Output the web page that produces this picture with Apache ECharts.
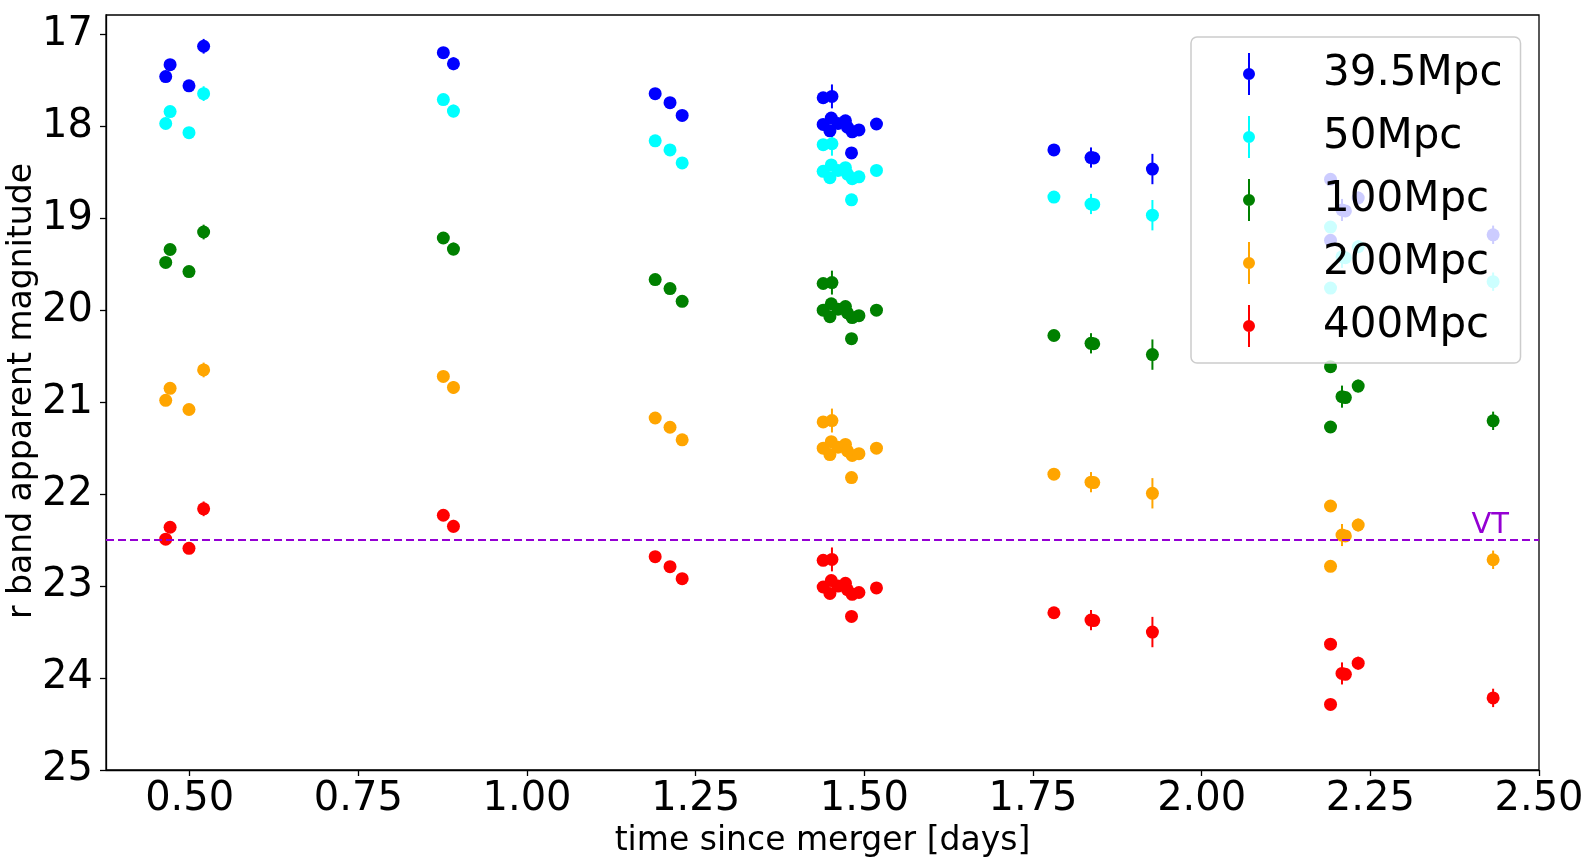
<!DOCTYPE html>
<html>
<head>
<meta charset="utf-8">
<script src="https://cdn.jsdelivr.net/npm/echarts@6/dist/echarts.min.js"></script>
<style>
  html, body { margin: 0; padding: 0; background: #fff; }
  #chart { width: 1587px; height: 862px; }
</style>
</head>
<body>
<div id="chart"></div>
<script>
// observation times (days since merger), shared by every distance
const times = [0.4645, 0.471, 0.499, 0.5207, 0.876, 0.891, 1.190, 1.212, 1.230,
  1.439, 1.452, 1.439, 1.451, 1.449, 1.461, 1.472, 1.475, 1.482, 1.492, 1.518, 1.481,
  1.781, 1.836, 1.840, 1.927, 2.191, 2.191, 2.208, 2.213, 2.232, 2.432]
// magnitude errors (same for all distances)
const errs = [0, 0, 0, 0.08, 0, 0.07, 0, 0, 0,
  0, 0.13, 0, 0, 0, 0, 0, 0, 0, 0, 0, 0,
  0, 0.11, 0, 0.165, 0, 0, 0.12, 0, 0.07, 0.1]

const mag395 = [17.46, 17.33, 17.56, 17.13, 17.20, 17.32, 17.645, 17.743, 17.882,
  17.69, 17.675, 17.98, 17.91, 18.05, 17.97, 17.94, 18.01, 18.06, 18.04, 17.975, 18.29,
  18.257, 18.34, 18.345, 18.465, 18.577, 19.24, 18.91, 18.92, 18.78, 19.18]
const mag50 = [17.97, 17.84, 18.07, 17.645, 17.71, 17.835, 18.158, 18.257, 18.399,
  18.20, 18.19, 18.49, 18.42, 18.56, 18.48, 18.45, 18.52, 18.57, 18.55, 18.48, 18.80,
  18.77, 18.845, 18.85, 18.967, 19.096, 19.76, 19.42, 19.43, 19.31, 19.69]
const mag100 = [19.48, 19.34, 19.58, 19.15, 19.215, 19.335, 19.667, 19.765, 19.904,
  19.71, 19.70, 20.00, 19.93, 20.07, 19.99, 19.96, 20.03, 20.08, 20.06, 20.00, 20.31,
  20.275, 20.36, 20.365, 20.483, 20.614, 21.27, 20.94, 20.95, 20.825, 21.203]
const mag200 = [20.98, 20.85, 21.08, 20.65, 20.72, 20.84, 21.172, 21.273, 21.41,
  21.215, 21.20, 21.50, 21.43, 21.57, 21.49, 21.46, 21.53, 21.58, 21.56, 21.50, 21.82,
  21.783, 21.87, 21.875, 21.991, 22.129, 22.785, 22.445, 22.455, 22.336, 22.714]
const mag400 = [22.49, 22.36, 22.59, 22.16, 22.23, 22.35, 22.68, 22.789, 22.92,
  22.72, 22.71, 23.01, 22.94, 23.08, 23.00, 22.97, 23.04, 23.09, 23.07, 23.02, 23.33,
  23.29, 23.37, 23.375, 23.50, 23.632, 24.287, 23.95, 23.96, 23.838, 24.216]

const distances = ['39.5Mpc', '50Mpc', '100Mpc', '200Mpc', '400Mpc']
const magnitudes = [mag395, mag50, mag100, mag200, mag400]
const colors = ['#0000ff', '#00ffff', '#008000', '#ffa500', '#ff0000']

const xTicks = [0.5, 0.75, 1, 1.25, 1.5, 1.75, 2, 2.25, 2.5]
const yTicks = [17, 18, 19, 20, 21, 22, 23, 24, 25]
const vtLimit = 22.5

const font = 'DejaVu Sans'
// errorbar legend glyph: vertical bar with a dot
const errIcon = 'path://M5,0 H7 V42 H5 Z M6,15 A6,6 0 1,1 6,27 A6,6 0 1,1 6,15 Z'

const chart = echarts.init(document.getElementById('chart'))

const series = []
distances.forEach((name, i) => {
  const data = times.map((t, k) => [t, magnitudes[i][k], errs[k]])
  series.push({
    name: name + ' err',
    type: 'custom',
    data: data,
    itemStyle: { color: colors[i] },
    renderItem: (params, api) => {
      const e = api.value(2)
      if (!e) return null
      const top = api.coord([api.value(0), api.value(1) - e])
      const bot = api.coord([api.value(0), api.value(1) + e])
      return {
        type: 'line',
        shape: { x1: top[0], y1: top[1], x2: bot[0], y2: bot[1] },
        style: { stroke: colors[i], lineWidth: 2 }
      }
    }
  })
  const sc = {
    name: name,
    type: 'scatter',
    data: data,
    symbolSize: 13,
    itemStyle: { color: colors[i], opacity: 1 }
  }
  if (i === distances.length - 1) {
    sc.markLine = {
      silent: true,
      symbol: 'none',
      data: [{ yAxis: vtLimit }],
      lineStyle: { type: [8, 4], color: '#9400d3', width: 2 },
      label: {
        show: true, position: 'insideEndTop', formatter: 'VT',
        color: '#9400d3', fontSize: 29, fontFamily: font, distance: [30, 0]
      }
    }
  }
  series.push(sc)
})

chart.setOption({
  animation: false,
  textStyle: { fontFamily: font },
  grid: {
    left: 106, top: 15, right: 48, bottom: 92,
    outerBoundsMode: 'none',
    show: true, borderColor: '#000', borderWidth: 1.3, backgroundColor: 'transparent'
  },
  // y axis title, placed by hand
  graphic: [{
    type: 'text',
    x: 22, y: 391,
    rotation: Math.PI / 2,
    style: {
      text: 'r band apparent magnitude',
      font: '33px "DejaVu Sans"',
      fill: '#000',
      textAlign: 'center',
      textVerticalAlign: 'middle'
    }
  }],
  legend: {
    orient: 'vertical',
    left: 1191, top: 37,
    padding: [16, 18, 16, 52],
    itemGap: 21,
    itemWidth: 12, itemHeight: 42,
    backgroundColor: 'rgba(255,255,255,0.8)',
    borderColor: '#cccccc', borderWidth: 1.5, borderRadius: 6,
    data: distances.map(name => ({ name: name, icon: errIcon })),
    textStyle: { fontSize: 42, color: '#000', fontFamily: font, padding: [0, 0, 0, 63] }
  },
  xAxis: {
    type: 'value',
    min: 0.376, max: 2.5,
    name: 'time since merger [days]',
    nameLocation: 'middle', nameGap: 49,
    nameTextStyle: { fontSize: 33, color: '#000', fontFamily: font },
    axisLine: { show: true, lineStyle: { color: '#000', width: 1.3 } },
    axisTick: { show: true, customValues: xTicks, length: 6, lineStyle: { color: '#000', width: 1.3 } },
    axisLabel: {
      customValues: xTicks, fontSize: 40, color: '#000', margin: 10,
      formatter: v => v.toFixed(2)
    },
    splitLine: { show: false }
  },
  yAxis: {
    type: 'value',
    inverse: true,
    min: 16.79, max: 25,
    axisLine: { show: true, lineStyle: { color: '#000', width: 1.3 } },
    axisTick: { show: true, customValues: yTicks, length: 6, lineStyle: { color: '#000', width: 1.3 } },
    axisLabel: { customValues: yTicks, fontSize: 40, color: '#000', margin: 13 },
    splitLine: { show: false }
  },
  series: series
})
</script>
</body>
</html>
